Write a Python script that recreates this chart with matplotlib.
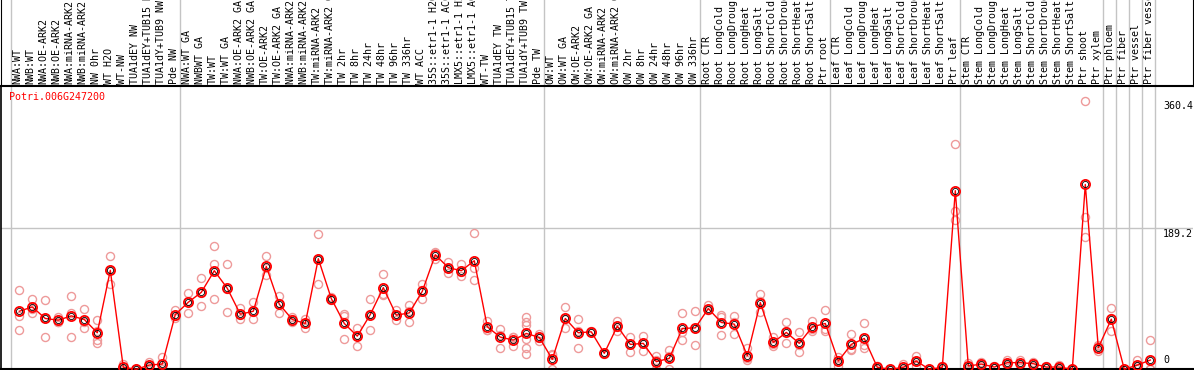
"""Expression profile for one poplar gene across sample groups (means + replicates)."""

import matplotlib

matplotlib.use("Agg")
import matplotlib.pyplot as plt

GENE = "Potri.006G247200"

labels = [
    "NWA:WT", "NWB:WT", "NWA:OE-ARK2", "NWB:OE-ARK2", "NWA:miRNA-ARK2",
    "NWB:miRNA-ARK2", "NW 0hr", "WT H2O", "WT-NW", "TUA1dEY NW",
    "TUA1dEY+TUB15 NW", "TUA1dY+TUB9 NW", "Pde NW",
    "NWA:WT GA", "NWBWT GA", "TW:WT", "TW:WT GA", "NWA:OE-ARK2 GA",
    "NWB:OE-ARK2 GA", "TW:OE-ARK2", "TW:OE-ARK2 GA", "NWA:miRNA-ARK2 GA",
    "NWB:miRNA-ARK2 GA", "TW:miRNA-ARK2", "TW:miRNA-ARK2 GA", "TW 2hr",
    "TW 8hr", "TW 24hr", "TW 48hr", "TW 96hr", "TW 336hr", "WT ACC",
    "35S::etr1-1 H2O", "35S::etr1-1 ACC", "LMX5::etr1-1 H2O",
    "LMX5::etr1-1 ACC", "WT-TW", "TUA1dEY TW", "TUA1dEY+TUB15 TW",
    "TUA1dY+TUB9 TW", "Pde TW",
    "OW:WT", "OW:WT GA", "OW:OE-ARK2", "OW:OE-ARK2 GA", "OW:miRNA-ARK2",
    "OW:miRNA-ARK2 GA", "OW 2hr", "OW 8hr", "OW 24hr", "OW 48hr", "OW 96hr",
    "OW 336hr",
    "Root CTR", "Root LongCold", "Root LongDrought", "Root LongHeat",
    "Root LongSalt", "Root ShortCold", "Root ShortDrought", "Root ShortHeat",
    "Root ShortSalt", "Ptr root",
    "Leaf CTR", "Leaf LongCold", "Leaf LongDrought", "Leaf LongHeat",
    "Leaf LongSalt", "Leaf ShortCold", "Leaf ShortDrought", "Leaf ShortHeat",
    "Leaf ShortSalt", "Ptr leaf",
    "Stem CTR", "Stem LongCold", "Stem LongDrought", "Stem LongHeat",
    "Stem LongSalt", "Stem ShortCold", "Stem ShortDrought", "Stem ShortHeat",
    "Stem ShortSalt", "Ptr shoot", "Ptr xylem",
    "Ptr phloem", "Ptr fiber", "Ptr vessel", "Ptr fiber vessel",
]

means = [
    77.9, 83.7, 68.2, 65.9, 71.7, 66.8, 49.0, 132.8, 2.7, 0.0, 5.7, 7.0, 73.5,
    90.0, 103.3, 132.3, 108.7, 73.9, 77.9, 138.0, 87.3, 66.8, 61.5, 148.4,
    94.9, 61.5, 44.5, 73.5, 109.6, 72.6, 75.7, 104.7, 153.7, 136.4, 132.3,
    145.7, 57.0, 43.2, 39.2, 48.1, 42.8,
    13.4, 68.2, 49.0, 50.3, 21.4, 57.9, 33.4, 34.8, 10.2, 14.7, 54.8, 55.6,
    81.5, 62.8, 60.6, 18.2, 89.6, 36.1, 49.5, 34.8, 57.0, 61.5,
    11.1, 33.4, 41.4, 2.7, 0.0, 2.7, 11.1, 0.0, 2.7, 239.7,
    4.4, 7.0, 3.0, 8.9, 8.9, 7.5, 3.0, 3.0, 0.0, 248.0, 28.9,
    67.2, 0.0, 5.7, 12.4,
]

reps = [
    [106, 72, 53], [95, 75, 81], [93, 43, 69], [70, 64, 64], [98, 76, 44],
    [81, 56, 63], [66, 52, 39, 35], [152, 114, 133], [7, 1, 0], [1, 0, 0],
    [10, 4, 3], [17, 3, 1], [80, 69, 72],
    [103, 76, 91], [122, 85, 103], [165, 141, 94], [141, 77, 108],
    [82, 67, 73], [90, 67, 77], [152, 126, 136], [98, 75, 89], [70, 63, 67],
    [67, 56, 62], [182, 115, 148], [97, 94, 93], [74, 72, 41], [56, 31, 46],
    [94, 53, 74], [128, 101, 100], [79, 66, 73], [86, 63, 78], [114, 94, 106],
    [156, 148, 157], [144, 129, 136], [141, 125, 131], [183, 136, 120],
    [65, 53, 53], [54, 29, 46], [44, 31, 43], [70, 64, 59, 41, 28, 21],
    [48, 38, 42],
    [21, 0, 19], [83, 55, 67], [68, 28, 51], [50, 51, 50], [22, 20, 22],
    [65, 52, 57], [43, 23, 34], [45, 25, 35], [18, 0, 13], [26, 0, 18],
    [76, 39, 50], [78, 33, 56],
    [86, 79, 80], [73, 70, 46], [71, 47, 64], [28, 15, 12], [101, 77, 91],
    [44, 31, 34], [63, 35, 51], [50, 23, 32], [65, 54, 52], [79, 52, 54],
    [17, 4, 13], [48, 26, 27], [62, 33, 29], [4, 0, 4], [0, 0, 0], [7, 0, 1],
    [18, 4, 11], [0, 0, 0], [4, 0, 4], [303, 213, 201],
    [9, 0, 4], [10, 4, 7], [3, 2, 4], [12, 6, 9], [12, 6, 9], [10, 5, 8],
    [4, 2, 3], [6, 1, 2], [0, 0, 0], [360.4, 204, 178], [31, 24, 32],
    [82, 51, 69], [0, 0, 0], [12, 0, 5], [39, 0, 0],
]

# group separators sit between these sample indices
group_edges = [0, 13, 41, 53, 63, 73, 84, 85, 86, 87, 88]
y_ticks = [0, 189.2, 360.4]

W, H = 1194, 370
PX = 13.0            # pixels per sample column
X_LEFT, X_RIGHT = 1, 1193
Y_TOP, Y_BASE = 86, 369.3
Y_SCALE = 0.7452     # pixels per expression unit
MONO = "DejaVu Sans Mono"
FS = 7.2

fig = plt.figure(figsize=(W / 100, H / 100), dpi=100)
ax = fig.add_axes([X_LEFT / W, (H - Y_BASE) / H, (X_RIGHT - X_LEFT) / W, (Y_BASE - Y_TOP) / H])
lab = fig.add_axes([X_LEFT / W, (H - Y_TOP) / H, (X_RIGHT - X_LEFT) / W, Y_TOP / H])

xmin = 1 - (19.3 - X_LEFT) / PX
xmax = xmin + (X_RIGHT - X_LEFT) / PX
for a in (ax, lab):
    a.set_xlim(xmin, xmax)
    a.set_xticks([])
    a.set_yticks([])
ax.set_ylim(0, (Y_BASE - Y_TOP) / Y_SCALE)
lab.set_ylim(Y_TOP, 0)

for sp in ("right", "top"):
    ax.spines[sp].set_visible(False)
ax.spines["left"].set_linewidth(1.2)
ax.spines["bottom"].set_linewidth(1.5)
lab.spines["top"].set_visible(False)
lab.spines["bottom"].set_linewidth(1.5)

grid_c = "#c4c4c4"
for e in group_edges:
    ax.axvline(e + 0.36, color=grid_c, lw=1, zorder=0)
    lab.axvline(e + 0.36, color=grid_c, lw=1, zorder=0)
ax.axhline(189.2, color=grid_c, lw=1, zorder=0)

xs = list(range(1, len(means) + 1))

for x, r in zip(xs, reps):
    ax.plot([x] * len(r), r, "o", ms=5.8, mfc="none", mec="#ee9a9a", mew=1.0,
            clip_on=False, zorder=2)

ax.plot(xs, means, "-", color="red", lw=1.0, clip_on=False, zorder=3)
ax.plot(xs, means, "o", ms=6.6, mfc="none", mec="red", mew=1.3, clip_on=False, zorder=4)
ax.plot(xs, means, "o", ms=4.4, mfc="none", mec="black", mew=0.6, clip_on=False, zorder=5)

for x, name in zip(xs, labels):
    lab.text(x - 0.12, 83.8, name, rotation=90, ha="center", va="bottom",
             family=MONO, fontsize=FS, color="black")

fig.text(9 / W, 1 - 97 / H, GENE, color="red", ha="left", va="center",
         family=MONO, fontsize=FS)

xt = xmin + (1163 - X_LEFT) / PX
for v in y_ticks:
    if v == 0:
        ax.annotate(f"{v:g}", (xt, v), xytext=(0, 3), textcoords="offset points",
                    ha="left", va="bottom", family=MONO, fontsize=FS, annotation_clip=False)
    else:
        ax.annotate(f"{v:g}", (xt, v), xytext=(0, -0.5), textcoords="offset points",
                    ha="left", va="top", family=MONO, fontsize=FS, annotation_clip=False)

fig.savefig("out.png", dpi=100)
